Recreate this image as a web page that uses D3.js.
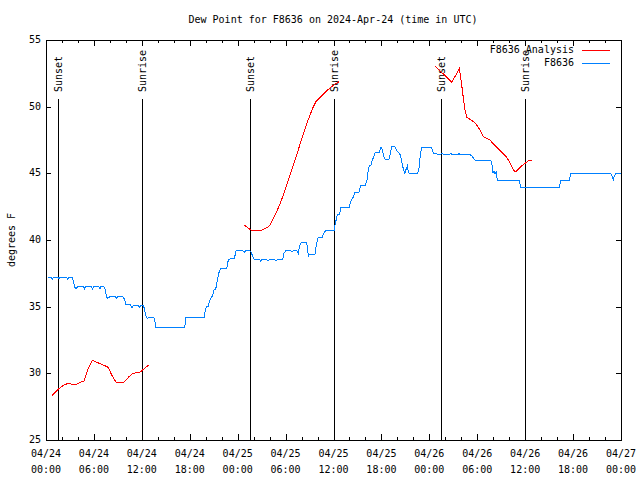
<!DOCTYPE html>
<html><head><meta charset="utf-8">
<script src="https://cdn.jsdelivr.net/npm/d3@7"></script>
<style>
body{margin:0;background:#fff;}
text{font-family:"DejaVu Sans Mono","Liberation Mono",monospace;font-size:10px;fill:#000;}
</style></head>
<body><svg id="c" width="640" height="480"></svg>
<script>
// ---- data (hours since 2024-04-24 00:00 UTC) ----
const titleText = "Dew Point for F8636 on 2024-Apr-24 (time in UTC)";
const yLabel = "degrees F";
const seriesNames = ["F8636 Analysis", "F8636"];
const dateLabels = ["04/24","04/24","04/24","04/24","04/25","04/25","04/25","04/25","04/26","04/26","04/26","04/26","04/27"];
const timeLabels = ["00:00","06:00","12:00","18:00","00:00","06:00","12:00","18:00","00:00","06:00","12:00","18:00","00:00"];
const yTicks = [25,30,35,40,45,50,55];
const sunsetHours = [1.57, 25.61, 49.50];
const sunriseHours = [12.06, 36.13, 60.04];

const obsHours = [0.25,0.67,0.79,0.92,1.50,1.63,1.75,2.59,2.75,2.88,3.30,3.42,3.59,3.76,3.92,4.67,4.80,4.93,5.68,5.84,5.97,6.64,6.76,6.85,7.26,7.39,7.55,7.68,7.97,8.72,8.85,8.97,9.64,9.85,10.02,10.60,10.77,10.94,11.56,11.73,11.85,12.19,12.31,12.44,12.69,12.86,13.52,
13.61,13.77,17.36,17.53,19.83,19.95,20.12,20.33,20.45,20.66,20.83,20.95,21.04,21.25,21.45,21.66,21.87,22.62,22.83,23.04,23.58,23.79,24.58,24.83,25.04,25.46,25.67,25.96,26.05,
26.71,26.88,27.01,27.63,27.80,27.97,28.63,28.80,28.97,29.64,29.80,30.01,30.64,30.80,30.97,31.39,31.60,31.72,31.93,32.64,32.72,32.85,32.97,33.68,33.81,34.02,34.10,34.60,34.81,35.02,35.85,36.10,36.19,36.31,36.48,36.73,36.94,37.98,38.15,38.27,38.45,
38.69,39.19,39.32,39.44,39.94,40.07,40.20,40.36,40.49,40.70,40.86,41.03,41.20,41.70,41.82,41.95,42.12,42.24,42.45,42.95,43.12,43.28,43.70,43.87,44.12,44.29,44.45,44.62,44.79,44.95,45.12,45.25,45.37,45.50,46.54,46.71,46.87,47.04,48.21,48.38,48.50,48.92,
49.46,49.60,49.75,50.60,50.67,50.75,51.65,51.72,51.80,52.47,52.59,53.09,53.30,53.72,53.84,54.55,54.68,55.60,55.72,55.85,55.97,56.10,56.22,56.35,56.43,56.56,59.27,59.44,64.28,64.45,65.53,65.70,70.71,70.87,71.04,71.17,71.38,72.0];
const obsValues = [37.18,37.18,37.05,37.18,37.18,37.08,37.18,37.18,37.05,37.18,37.18,36.93,36.48,36.33,36.48,36.48,36.33,36.48,36.48,36.33,36.48,36.48,36.35,36.48,36.48,36.33,35.83,35.63,35.73,35.73,35.63,35.73,35.73,35.53,35.13,35.13,34.93,35.08,35.08,34.93,35.08,35.08,34.88,34.43,34.08,34.18,34.18,
34.0,33.45,33.45,34.2,34.2,34.75,35.0,35.0,35.38,35.63,35.8,36.05,36.25,36.3,37.0,37.55,37.85,37.85,38.5,38.58,38.58,39.2,39.2,39.08,39.2,39.2,39.13,38.63,38.55,
38.55,38.43,38.55,38.55,38.43,38.55,38.55,38.43,38.55,38.55,39.0,39.2,39.2,39.08,39.2,39.2,38.95,39.5,39.8,39.8,39.5,38.8,38.95,38.95,39.5,40.13,40.2,40.2,40.55,40.7,40.7,40.7,41.13,41.45,41.88,41.88,42.45,42.45,42.88,43.0,43.2,
43.58,43.58,43.88,44.08,44.08,44.25,44.5,45.25,45.55,45.63,46.0,46.2,46.55,46.55,46.75,47.0,46.8,46.38,46.05,46.05,46.5,47.0,47.0,46.75,46.55,46.5,46.13,45.63,45.25,45.0,45.38,45.55,45.13,45.0,45.0,45.38,46.38,46.95,46.95,46.75,46.5,46.45,
46.45,46.5,46.45,46.45,46.5,46.45,46.45,46.5,46.45,46.45,46.4,46.4,46.33,46.0,45.93,45.93,45.95,45.95,45.95,45.63,45.0,45.2,44.95,45.13,44.75,44.45,44.45,43.95,43.95,44.45,44.45,45.0,45.0,44.8,44.5,44.8,45.0,45.0];

// analysis: three runs separated by null gaps
const anaHours = [0.79,1.13,1.42,1.84,2.25,2.80,3.21,3.84,4.26,4.76,5.18,5.80,6.34,6.97,7.80,8.22,8.77,9.77,10.31,10.85,11.77,12.10,12.86,
null,
24.79,25.21,25.63,25.88,26.80,27.21,27.71,28.05,28.47,28.88,29.30,29.72,30.14,30.55,30.97,31.39,31.81,32.22,32.64,33.06,33.48,33.81,34.31,34.81,35.35,35.77,36.19,36.48,36.73,
null,
48.71,49.13,49.75,50.17,50.80,51.21,51.76,52.05,52.26,52.47,52.68,53.09,53.51,53.93,54.35,54.76,55.18,55.60,56.01,56.43,56.85,57.27,57.68,58.02,58.31,58.73,59.15,59.56,59.98,60.40,60.82];
const anaValues = [28.35,28.55,28.75,28.95,29.13,29.25,29.18,29.18,29.33,29.43,30.2,31.0,30.83,30.68,30.45,29.88,29.33,29.33,29.7,30.0,30.08,30.25,30.63,
null,
41.13,40.95,40.75,40.68,40.68,40.8,40.93,41.13,41.63,42.13,42.7,43.38,44.13,44.88,45.63,46.38,47.18,47.95,48.7,49.38,50.0,50.38,50.68,51.0,51.3,51.5,51.7,51.8,51.88,
null,
53.05,52.8,52.45,52.2,51.83,52.25,52.88,51.63,50.63,49.75,49.2,49.05,48.88,48.63,48.25,47.75,47.63,47.5,47.2,46.95,46.7,46.45,46.2,45.88,45.5,45.08,45.3,45.55,45.75,45.93,46.0];

// ---- drawing ----
const svg = d3.select("#c");
const L = 46, R = 621, T = 40, B = 440;
const x = d3.scaleLinear().domain([0, 72]).range([L, R]);
const y = d3.scaleLinear().domain([25, 55]).range([B, T]);
const redC = "#ff0000", blueC = "#0080ff";

svg.append("rect").attr("width",640).attr("height",480).attr("fill","#fff");

// title
svg.append("text").attr("x",333).attr("y",20).attr("text-anchor","middle")
  .attr("dominant-baseline","middle").text(titleText);

// y axis label
svg.append("text").attr("transform","translate(12,240) rotate(-90)")
  .attr("text-anchor","middle").attr("dominant-baseline","middle").text(yLabel);

// ticks via d3 axes (pointing inward)
const majorX = d3.range(0, 73, 6);
const minorX = d3.range(0, 73, 2).filter(h => h % 6 !== 0);
function tickG(axis, tr){
  const g = svg.append("g").attr("transform", tr).call(axis);
  g.select(".domain").remove();
  g.selectAll("line").attr("stroke","#000").attr("shape-rendering","crispEdges");
  g.selectAll("text").remove();
  return g;
}
tickG(d3.axisBottom(x).tickValues(majorX).tickSize(-6), `translate(0,${B})`);
tickG(d3.axisBottom(x).tickValues(minorX).tickSize(-3), `translate(0,${B})`);
tickG(d3.axisTop(x).tickValues(majorX).tickSize(-6), `translate(0,${T})`);
tickG(d3.axisTop(x).tickValues(minorX).tickSize(-3), `translate(0,${T})`);
tickG(d3.axisLeft(y).tickValues(yTicks).tickSize(-5), `translate(${L},0)`);
tickG(d3.axisRight(y).tickValues(yTicks).tickSize(-5), `translate(${R},0)`);

// tick labels
svg.append("g").selectAll("text").data(yTicks).join("text")
  .attr("x", L - 5).attr("y", d => y(d)).attr("text-anchor","end")
  .attr("dominant-baseline","middle").text(d => d);
const xl = svg.append("g").selectAll("g").data(majorX).join("g")
  .attr("transform", d => `translate(${x(d)},0)`);
xl.append("text").attr("y",454).attr("text-anchor","middle").attr("dominant-baseline","middle")
  .text((d,i) => dateLabels[i]);
xl.append("text").attr("y",470).attr("text-anchor","middle").attr("dominant-baseline","middle")
  .text((d,i) => timeLabels[i]);

// sun event lines
const sunEvents = sunsetHours.map(h => ({h, label:"Sunset"}))
  .concat(sunriseHours.map(h => ({h, label:"Sunrise"})));
const sg = svg.append("g").selectAll("g").data(sunEvents).join("g");
sg.append("line").attr("x1", d => Math.floor(x(d.h))+0.5).attr("x2", d => Math.floor(x(d.h))+0.5)
  .attr("y1", B).attr("y2", 99).attr("stroke","#000").attr("stroke-width",1)
  .attr("shape-rendering","crispEdges");
sg.append("text").attr("transform", d => `translate(${Math.floor(x(d.h))+1},92) rotate(-90)`)
  .attr("dominant-baseline","middle").text(d => d.label);

// data lines
const obs = obsHours.map((h,i) => [h, obsValues[i]]);
const ana = anaHours.map((h,i) => [h, anaValues[i]]);
const line = d3.line().defined(d => d[0] !== null && d[1] !== null)
  .x(d => x(d[0])).y(d => y(d[1]));
svg.append("path").attr("d", line(obs)).attr("fill","none").attr("stroke",blueC)
  .attr("stroke-width",1).attr("shape-rendering","crispEdges");
svg.append("path").attr("d", line(ana)).attr("fill","none").attr("stroke",redC)
  .attr("stroke-width",1).attr("shape-rendering","crispEdges");

// frame
svg.append("rect").attr("x",L+0.5).attr("y",T+0.5).attr("width",R-L).attr("height",B-T)
  .attr("fill","none").attr("stroke","#000").attr("shape-rendering","crispEdges");

// legend
const leg = svg.append("g").selectAll("g").data(seriesNames).join("g")
  .attr("transform", (d,i) => `translate(0,${50 + i*12.7})`);
leg.append("text").attr("x",574).attr("text-anchor","end").attr("dominant-baseline","middle").text(d => d);
leg.append("line").attr("x1",582).attr("x2",610).attr("y1",0.5).attr("y2",0.5)
  .attr("stroke",(d,i) => i === 0 ? redC : blueC).attr("shape-rendering","crispEdges");
</script></body></html>
